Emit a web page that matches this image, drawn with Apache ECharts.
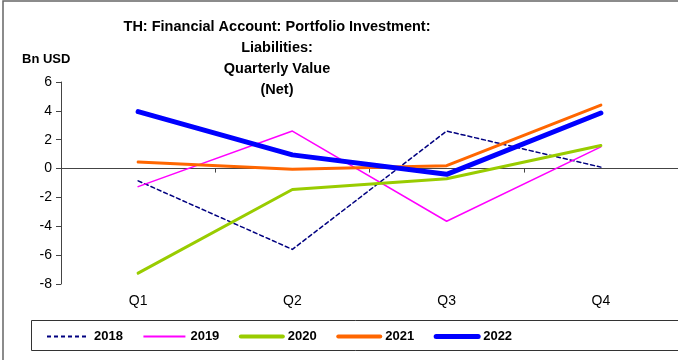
<!DOCTYPE html>
<html>
<head>
<meta charset="utf-8">
<script src="https://cdn.jsdelivr.net/npm/echarts@6/dist/echarts.min.js"></script>
<style>
  html, body { margin: 0; padding: 0; background: #fff; }
  #chart { width: 678px; height: 360px; }
</style>
</head>
<body>
<div id="chart"></div>
<script>
// Quarterly portfolio investment liabilities, net, billions of USD
const quarters = ['Q1', 'Q2', 'Q3', 'Q4'];
const years = ['2018', '2019', '2020', '2021', '2022'];
const v2018 = [-0.85, -5.6, 2.6, 0.1];
const v2019 = [-1.25, 2.6, -3.65, 1.5];
const v2020 = [-7.25, -1.45, -0.7, 1.6];
const v2021 = [0.45, -0.05, 0.2, 4.4];
const v2022 = [3.95, 0.95, -0.4, 3.85];
const yTicks = { min: -8, max: 6, step: 2 };

const FONT = '"Liberation Sans", Arial, sans-serif';

const styles = [
  { color: '#000080', width: 1.5, legendWidth: 2, type: [4, 3] },
  { color: '#FF00FF', width: 1.5, legendWidth: 2, type: 'solid' },
  { color: '#99CC00', width: 3, legendWidth: 4, type: 'solid' },
  { color: '#FF6600', width: 3, legendWidth: 4, type: 'solid' },
  { color: '#0000FF', width: 5, legendWidth: 5, type: 'solid' }
];
const values = [v2018, v2019, v2020, v2021, v2022];

const chart = echarts.init(document.getElementById('chart'), null, { renderer: 'canvas' });

chart.setOption({
  animation: false,
  backgroundColor: '#fff',
  title: [
    {
      text: 'TH: Financial Account: Portfolio Investment:\nLiabilities:\nQuarterly Value\n(Net)',
      left: 272,
      top: 11,
      textAlign: 'center',
      textStyle: { fontFamily: FONT, fontSize: 14.5, fontWeight: 'bold', color: '#000', lineHeight: 21 }
    },
    {
      text: 'Bn USD',
      left: 17,
      top: 48,
      textStyle: { fontFamily: FONT, fontSize: 13, fontWeight: 'bold', color: '#000' }
    }
  ],
  graphic: [
    {
      type: 'rect',
      shape: { x: 3, y: 1, width: 720, height: 420 },
      style: { fill: 'none', stroke: '#666', lineWidth: 1.5 },
      silent: true
    },
    {
      type: 'rect',
      shape: { x: 31.5, y: 320.5, width: 700, height: 30 },
      style: { fill: 'none', stroke: '#333', lineWidth: 1 },
      silent: true
    }
  ],
  legend: {
    left: 41,
    top: 325,
    itemWidth: 42,
    itemHeight: 14,
    itemGap: 19.5,
    itemStyle: { opacity: 0 },
    data: years.map((y, i) => ({
      name: y,
      itemStyle: { opacity: 0 },
      lineStyle: {
        color: styles[i].color,
        width: styles[i].legendWidth,
        type: styles[i].type,
        cap: i < 2 ? 'butt' : 'round'
      }
    })),
    textStyle: { fontFamily: FONT, fontSize: 13, fontWeight: 'bold', color: '#000' }
  },
  grid: { left: 61, right: 0, top: 82, bottom: 76 },
  xAxis: [
    {
      type: 'category',
      data: quarters,
      boundaryGap: true,
      axisLine: { onZero: true, lineStyle: { color: '#444', width: 1 } },
      axisTick: { show: true, length: 4, lineStyle: { color: '#444' } },
      axisLabel: { show: false },
      splitLine: { show: false }
    },
    {
      type: 'category',
      data: quarters,
      position: 'bottom',
      boundaryGap: true,
      axisLine: { show: false },
      axisTick: { show: false },
      axisLabel: { margin: 10, fontFamily: FONT, fontSize: 14, color: '#000' }
    }
  ],
  yAxis: {
    type: 'value',
    min: yTicks.min,
    max: yTicks.max,
    interval: yTicks.step,
    axisLine: { show: true, lineStyle: { color: '#444', width: 1 } },
    axisTick: { show: true, length: 5, lineStyle: { color: '#444' } },
    axisLabel: { margin: 9, fontFamily: FONT, fontSize: 14, color: '#000' },
    splitLine: { show: false }
  },
  series: years.map((y, i) => ({
    name: y,
    type: 'line',
    data: values[i],
    xAxisIndex: 0,
    symbol: 'none',
    smooth: false,
    lineStyle: {
      color: styles[i].color,
      width: styles[i].width,
      type: styles[i].type,
      cap: 'round',
      join: 'round'
    },
    itemStyle: { color: styles[i].color }
  }))
});
</script>
</body>
</html>
